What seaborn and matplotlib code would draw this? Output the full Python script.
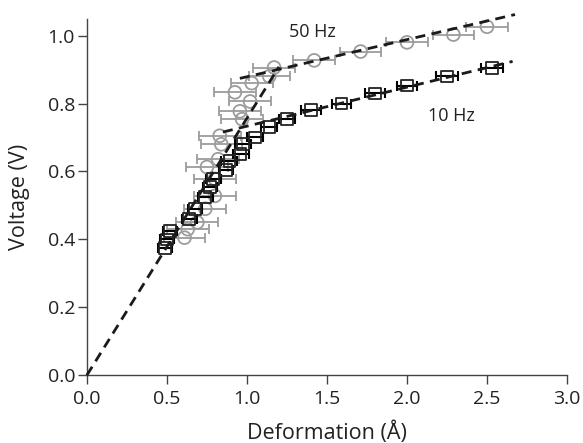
import matplotlib
matplotlib.use("Agg")
import matplotlib.pyplot as plt
import seaborn as sns

# 10 Hz measurements (squares)
x10 = [0.49, 0.50, 0.52, 0.64, 0.675, 0.74, 0.77, 0.79, 0.87, 0.89, 0.96, 0.975,
       1.05, 1.14, 1.25, 1.40, 1.59, 1.80, 2.00, 2.25, 2.53]
y10 = [0.375, 0.40, 0.425, 0.46, 0.49, 0.525, 0.555, 0.578, 0.605, 0.63, 0.652, 0.68,
       0.70, 0.73, 0.754, 0.78, 0.80, 0.83, 0.853, 0.88, 0.905]
xerr10 = [0.045, 0.045, 0.045, 0.045, 0.045, 0.045, 0.045, 0.045, 0.045, 0.05, 0.05, 0.05,
          0.05, 0.05, 0.05, 0.06, 0.06, 0.06, 0.06, 0.07, 0.07]

# 50 Hz measurements (circles)
x50 = [0.61, 0.63, 0.69, 0.74, 0.80, 0.80, 0.75, 0.82, 0.84, 0.83, 0.97, 0.956,
       1.02, 0.925, 1.03, 1.14, 1.17, 1.42, 1.71, 2.00, 2.29, 2.50]
y50 = [0.405, 0.43, 0.45, 0.49, 0.528, 0.578, 0.613, 0.636, 0.68, 0.705, 0.754, 0.777,
       0.806, 0.833, 0.86, 0.88, 0.906, 0.927, 0.953, 0.98, 1.003, 1.026]
xerr50 = [0.13] * len(x50)

# Linear fits drawn as dashed lines
fit_origin_x = [0.0, 1.20]
fit_origin_y = [0.0, 0.908]
fit50_x = [0.956, 2.675]
fit50_y = [0.874, 1.062]
fit10_x = [0.85, 2.66]
fit10_y = [0.716, 0.924]

sns.set_style("ticks")
plt.rcParams["font.family"] = ["Open Sans", "DejaVu Sans"]

fig = plt.figure(figsize=(5.83, 4.43), dpi=100)
ax = fig.add_axes([0.149, 0.153, 0.8236, 0.805])

gray = "#9c9c9c"
ax.errorbar(x50, y50, xerr=xerr50, fmt="none", ecolor=gray, elinewidth=1.3,
            capsize=3.5, capthick=1.3, zorder=1)
sns.scatterplot(x=x50, y=y50, ax=ax, marker="o", s=85, facecolor="none",
                edgecolor=gray, linewidth=1.3, zorder=2)

ax.errorbar(x10, y10, xerr=xerr10, fmt="none", ecolor="black", elinewidth=1.5,
            capsize=3.5, capthick=1.5, zorder=3)
sns.scatterplot(x=x10, y=y10, ax=ax, marker="s", s=70, facecolor="none",
                edgecolor="#222222", linewidth=1.3, zorder=4)

for fx, fy in [(fit_origin_x, fit_origin_y), (fit50_x, fit50_y), (fit10_x, fit10_y)]:
    sns.lineplot(x=fx, y=fy, ax=ax, color="#1a1a1a", linewidth=2.0,
                 linestyle=(0, (3.6, 2.3)), zorder=5, clip_on=False)

ax.text(1.41, 1.01, "50 Hz", fontsize=13, ha="center", va="center", color="#222222")
ax.text(2.28, 0.763, "10 Hz", fontsize=13, ha="center", va="center", color="#222222")

ax.set_xlim(0, 3.0)
ax.set_ylim(0, 1.05)
ax.set_xticks([0.0, 0.5, 1.0, 1.5, 2.0, 2.5, 3.0])
ax.set_yticks([0.0, 0.2, 0.4, 0.6, 0.8, 1.0])
ax.set_xticklabels([f"{v:.1f}" for v in ax.get_xticks()])
ax.set_yticklabels([f"{v:.1f}" for v in ax.get_yticks()])
ax.tick_params(axis="both", labelsize=14, length=6.5, width=1.0, color="#444444",
               labelcolor="#222222")
ax.tick_params(axis="x", pad=4)
ax.tick_params(axis="y", pad=2)
for s in ["left", "bottom"]:
    ax.spines[s].set_color("#444444")
    ax.spines[s].set_linewidth(1.0)
sns.despine(ax=ax)

ax.set_xlabel("Deformation (Å)", fontsize=15.5, color="#222222", labelpad=10)
ax.set_ylabel("Voltage (V)", fontsize=15.5, color="#222222", labelpad=13)

fig.savefig("out.png", dpi=100)
